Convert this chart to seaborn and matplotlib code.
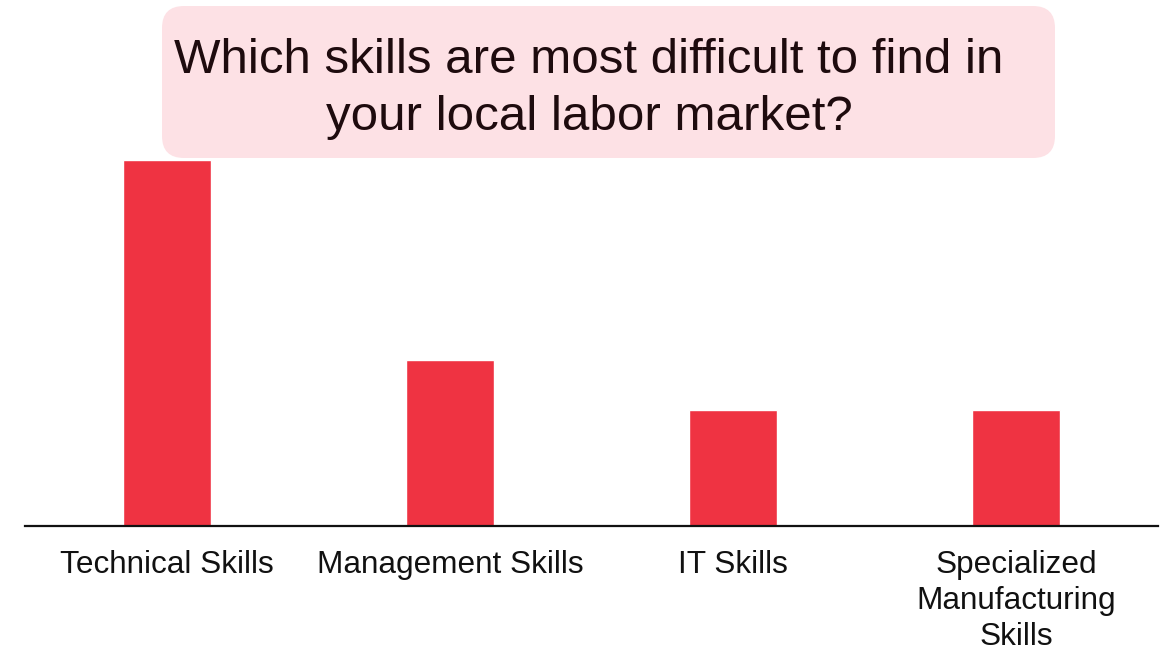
import pandas as pd
import matplotlib
matplotlib.use("Agg")
import matplotlib.pyplot as plt
import seaborn as sns
from matplotlib.patches import FancyBboxPatch

# --- data ---
skills = ["Technical Skills", "Management Skills", "IT Skills",
          "Specialized\nManufacturing\nSkills"]
responses = [22, 10, 7, 7]

df = pd.DataFrame({"skill": skills, "responses": responses})

sns.set_style("white")
plt.rcParams["font.family"] = ["Liberation Sans", "DejaVu Sans"]

fig = plt.figure(figsize=(11.7, 6.5), dpi=100)
ax = fig.add_axes([25 / 1170, 124 / 650, 1133 / 1170, 366 / 650])

sns.barplot(data=df, x="skill", y="responses", color="#EF3342",
            width=0.31, saturation=1, ax=ax)

ax.set_xlim(-0.5, 3.5)
ax.set_ylim(0, 22)
ax.set_xlabel("")
ax.set_ylabel("")
ax.set_yticks([])
for s in ["top", "right", "left"]:
    ax.spines[s].set_visible(False)
ax.spines["bottom"].set_color("#111111")
ax.spines["bottom"].set_linewidth(1.6)
ax.tick_params(axis="x", length=0, pad=17, labelsize=22.7, colors="#111111")
for lab in ax.get_xticklabels():
    lab.set_linespacing(1.27)
    lab.set_verticalalignment("top")

# --- title box ---
box = FancyBboxPatch((1.62, 4.92), 8.93, 1.52,
                     boxstyle="round,pad=0,rounding_size=0.22",
                     transform=fig.dpi_scale_trans,
                     facecolor="#FDE1E5", edgecolor="none", zorder=2)
fig.patches.append(box)
fig.text(5.89, 5.61, "Which skills are most difficult to find in\nyour local labor market?",
         transform=fig.dpi_scale_trans, ha="center", va="center",
         fontsize=35.5, color="#1E0B0E", linespacing=1.34, zorder=3)

fig.savefig("out.png", dpi=100)
